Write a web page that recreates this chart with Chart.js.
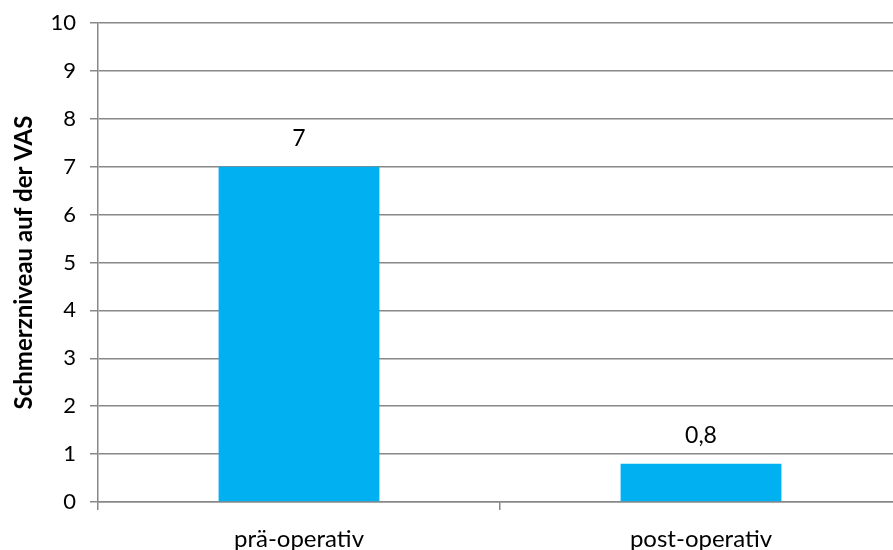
<!DOCTYPE html>
<html>
<head>
<meta charset="utf-8">
<script src="https://cdn.jsdelivr.net/npm/chart.js@4.4.0/dist/chart.umd.min.js"></script>
<style>
  html, body { margin: 0; padding: 0; background: #fff; overflow: hidden; }
  #wrap { position: relative; width: 905px; height: 550px; }
</style>
</head>
<body>
<div id="wrap"><canvas id="c"></canvas></div>
<script>
const categories = ['prä-operativ', 'post-operativ'];
const painValues = [7, 0.8];
const valueLabels = ['7', '0,8'];
const yTitle = 'Schmerzniveau auf der VAS';

const FONT = 'Lato, "Open Sans", sans-serif';

// Writes the value above each bar, using the bar's own top position
const barValueLabels = {
  id: 'barValueLabels',
  afterDatasetsDraw(chart) {
    const ctx = chart.ctx;
    const meta = chart.getDatasetMeta(0);
    ctx.save();
    ctx.font = '23px ' + FONT;
    ctx.fillStyle = '#000';
    ctx.textAlign = 'center';
    ctx.textBaseline = 'middle';
    meta.data.forEach((bar, i) => {
      ctx.fillText(valueLabels[i], bar.x, bar.y - 28);
    });
    ctx.restore();
  }
};

new Chart(document.getElementById('c'), {
  type: 'bar',
  data: {
    labels: categories,
    datasets: [{
      data: painValues,
      backgroundColor: '#00B0F0',
      borderWidth: 0,
      categoryPercentage: 0.8,
      barPercentage: 0.5
    }]
  },
  options: {
    responsive: true,
    maintainAspectRatio: false,
    animation: false,
    layout: { padding: { top: 0, right: 3, bottom: 0, left: 0 } },
    plugins: { legend: { display: false }, tooltip: { enabled: false } },
    scales: {
      x: {
        grid: {
          offset: true,
          drawOnChartArea: false,
          drawTicks: true,
          tickLength: 8,
          color: '#888',
          lineWidth: 1.5
        },
        border: { color: '#888', width: 1.5 },
        ticks: { font: { family: FONT, size: 24 }, color: '#000', padding: 15 },
        afterFit(scale) { scale.height = 48; }
      },
      y: {
        min: 0,
        max: 10,
        ticks: { stepSize: 1, font: { family: FONT, size: 22 }, color: '#000', padding: 14 },
        grid: { color: '#888', lineWidth: 1.5, tickLength: 8 },
        border: { color: '#888', width: 1.5 },
        title: {
          display: true,
          text: yTitle,
          font: { family: FONT, size: 24, weight: 'bold' },
          color: '#000',
          padding: { top: 10, bottom: 0 }
        },
        afterFit(scale) {
          scale.width = 98;
          scale.paddingTop = 23;
          scale.paddingBottom = 0;
        }
      }
    }
  },
  plugins: [barValueLabels]
});
</script>
</body>
</html>
